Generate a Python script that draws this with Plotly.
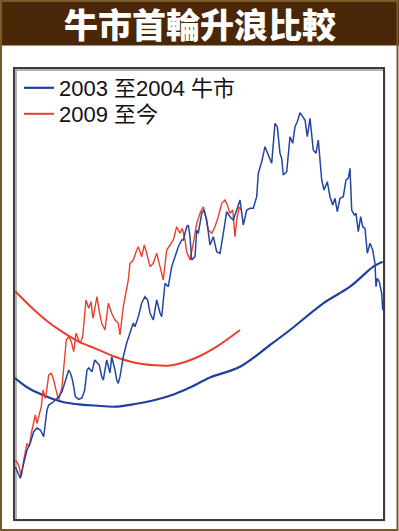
import plotly.graph_objects as go

# ---- data (trading-day index vs. relative index level) ----
blue_day = [0.3, 5.3, 8.7, 12, 15.3, 18.7, 22, 25.3, 28.7, 32, 33.7, 37, 40.3, 43.7, 47, 50.3, 53.7, 55.3, 57, 58.7,
            60.3, 63.7, 67, 69.7, 72, 73.7, 77, 79.7, 82, 84.3, 86.7, 88.3, 91.7, 95, 96.7, 98.3, 100, 101.7, 103.3, 105,
            108.3, 111.7, 115, 118.3, 120, 123.3, 126.7, 130, 132.7, 135, 138.3, 141.7, 145, 146.7, 150, 153.3, 156.7, 160,
            163.3, 166.7, 168.3, 171.7, 173.3, 175, 176.7, 180, 181.7, 183.3, 186.7, 189, 191.7, 195, 198.3, 201.7, 205,
            208.3, 211.7, 215, 218.3, 221.7, 225, 228.3, 231.7, 235, 238.3, 241.7, 243.3, 246.7, 250, 253.3, 256.7, 260,
            262.3, 265, 266.7, 268.3, 271.7, 275, 277.7, 280, 282.3, 285, 287.7, 290, 292.3, 295, 298.3, 301, 303.3,
            306.7, 309, 312.3, 315, 317.7, 320, 322.3, 325, 328.3, 331, 333.3, 335, 336.7, 339.3, 341, 343.3, 345.7,
            347.7, 350, 352.3, 355, 357.7, 360, 361, 362.3, 364.3, 366.7, 367.7]
blue_level = [52.3, 40.7, 55.7, 69, 76, 87.3, 91, 89, 82.3, 109, 114, 116, 119, 122.3, 127.3, 139, 149, 146, 141, 132.3,
              122.3, 119.7, 121, 129, 149, 151, 147.3, 159, 156, 154, 142.3, 139, 159, 146, 162.3, 156, 149, 139, 135.7, 142.3,
              162.3, 176, 186, 196, 192.3, 202.3, 216, 222.3, 219, 206, 199, 219, 206, 202.3, 235.7, 232.3, 252.3, 262.3,
              272.3, 279, 279, 292.3, 294, 282.3, 259, 262.3, 289, 285.7, 305.7, 309, 299, 274, 282.3, 267.3, 265.7,
              285.7, 307.3, 302.3, 299, 309, 319, 294, 309, 310.7, 310.7, 322.3, 345.7, 357.3, 372.3, 364, 355.7, 395.7,
              392.3, 365.7, 360.7, 344, 347.3, 382.3, 375.7, 392.3, 397.3, 406.3, 402.3, 399, 382.3, 400.7, 369, 365.7, 379,
              339, 329, 337.3, 322.3, 314, 320.7, 307.3, 320.7, 322.3, 339, 340.7, 350.7, 309, 304, 305.7, 287.3, 302.3,
              292.3, 290.7, 265.7, 275.7, 269, 255.7, 232.3, 240.7, 237.3, 225.7, 209]

red_day = [0.3, 3.7, 6.3, 8.7, 12, 14.3, 16.3, 18, 20.3, 22, 23.7, 26.3, 28, 30.3, 32, 33.7, 36.3, 38.7, 41, 43.7,
           47, 49.7, 51.3, 53.7, 56.3, 58.7, 61, 63.7, 65.3, 67.7, 69.7, 71, 73.7, 76, 78, 80.3, 82, 84.3, 86.7, 90,
           93.3, 96.7, 100, 103.3, 105, 108.3, 111.7, 113.3, 115, 118.3, 121.7, 123.3, 126.7, 129.3, 131.7, 135, 138.3,
           141.7, 145, 148.3, 151.7, 155, 158.3, 161.7, 165, 167.3, 170, 171.7, 175, 178.3, 181.7, 185, 188.3, 190,
           193.3, 196.7, 200, 203.3, 206.7, 210, 212.3, 215, 217.7, 220, 221.7, 224.3, 226]
red_level = [59, 54, 42.3, 59, 75.7, 72.3, 85.7, 92.3, 104, 95.7, 102.3, 112.3, 129, 120.7, 130.7, 144, 145.7, 139, 129, 119,
             132.3, 159, 179, 182.3, 177.3, 167.3, 185.7, 179, 175.7, 182.3, 205.7, 219, 210.7, 217.3, 200.7, 215.7, 222.3,
             207.3, 195.7, 189, 215.7, 205.7, 199, 195.7, 184, 212.3, 232.3, 239, 255.7, 259, 269, 272.3, 262.3, 274,
             265.7, 252.3, 255.7, 265.7, 252.3, 239, 269, 274, 279, 292.3, 285.7, 290.7, 279, 267.3, 259, 275.7, 295.7,
             305.7, 312.3, 305.7, 289, 285.7, 292.3, 302.3, 315.7, 319, 314, 305.7, 309, 282.3, 299, 312.3, 309]

blue_ma_day = [0, 13.7, 30.3, 47, 63.7, 80, 100, 120, 140, 160, 175, 195, 225, 255, 275, 308.3, 335, 358.3, 367.7]
blue_ma_level = [141, 130.7, 123, 117.3, 114.7, 113.5, 112.3, 115, 119, 125, 131.5, 141.5, 152.3, 174, 189, 215.7, 232.3,
                 252.3, 257.3]

red_ma_day = [0, 15, 32, 47, 63.7, 80, 100, 120, 140, 155, 170, 185, 201.7, 225]
red_ma_level = [228, 213, 198, 187.3, 177.3, 170.7, 162.3, 156.3, 153.7, 153.5, 157, 163, 172.3, 189]

legend_names = ["2003 至2004 牛市", "2009 至今"]
title_text = "牛市首輪升浪比較"

BLUE = "#2445a0"
RED = "#e8402c"

fig = go.Figure()
fig.add_trace(go.Scatter(x=blue_ma_day, y=blue_ma_level, mode="lines", line=dict(color="#1f3f9c", width=2.2, shape="spline"),
                         name=legend_names[0], legend="legend", showlegend=True, hoverinfo="skip"))
fig.add_trace(go.Scatter(x=red_ma_day, y=red_ma_level, mode="lines", line=dict(color=RED, width=2, shape="spline"),
                         name=legend_names[1], legend="legend2", showlegend=True, hoverinfo="skip"))
fig.add_trace(go.Scatter(x=red_day, y=red_level, mode="lines", line=dict(color=RED, width=1.4), showlegend=False))
fig.add_trace(go.Scatter(x=blue_day, y=blue_level, mode="lines", line=dict(color=BLUE, width=1.5), showlegend=False))

W, H = 399, 531
L, R, T, B = 15, 16, 69, 12
pw, ph = W - L - R, H - T - B


def px_x(x):
    return (x - L) / pw


def px_y(y):
    return (H - B - y) / ph


shapes = [
    # title bar
    dict(type="rect", xref="paper", yref="paper", x0=px_x(0), x1=px_x(W), y0=px_y(45.5), y1=px_y(0),
         fillcolor="#4a2708", line=dict(width=0), layer="below"),
    # outer frame
    dict(type="rect", xref="paper", yref="paper", x0=px_x(1), x1=px_x(W - 1.5), y0=px_y(H - 1), y1=px_y(1),
         fillcolor="rgba(0,0,0,0)", line=dict(color="#7a5a28", width=2)),
    # plot-box shadow
    dict(type="rect", xref="paper", yref="paper", x0=px_x(16), x1=px_x(384.5), y0=px_y(520.5), y1=px_y(70),
         fillcolor="rgba(0,0,0,0)", line=dict(color="#9a9a9a", width=1.5), layer="below"),
]

legend_font = dict(family="Liberation Sans, Arial, Noto Sans CJK TC", size=22, color="#111111")

fig.update_layout(
    width=W, height=H,
    margin=dict(l=L, r=R, t=T, b=B, pad=0),
    paper_bgcolor="white", plot_bgcolor="white",
    shapes=shapes,
    showlegend=True,
    legend=dict(x=px_x(19), y=px_y(67), xanchor="left", yanchor="top", bgcolor="rgba(0,0,0,0)",
                font=legend_font, itemwidth=30),
    legend2=dict(x=px_x(19), y=px_y(93), xanchor="left", yanchor="top", bgcolor="rgba(0,0,0,0)",
                 font=legend_font, itemwidth=30),
    annotations=[dict(text=title_text, xref="paper", yref="paper", x=0.5 * (px_x(0) + px_x(W)), y=px_y(24),
                      xanchor="center", yanchor="middle", showarrow=False,
                      font=dict(family="Noto Sans CJK TC", size=34, color="white", weight=900))],
    xaxis=dict(range=[0, 368], showgrid=False, zeroline=False, showticklabels=False, ticks="",
               showline=True, mirror=True, linecolor="#3c3c3c", linewidth=2, fixedrange=True),
    yaxis=dict(range=[0, 450], showgrid=False, zeroline=False, showticklabels=False, ticks="",
               showline=True, mirror=True, linecolor="#3c3c3c", linewidth=2, fixedrange=True),
)

fig.write_html("out.html", config={"displayModeBar": False},
               post_script="document.body.style.margin='0px';document.body.style.overflow='hidden';")
